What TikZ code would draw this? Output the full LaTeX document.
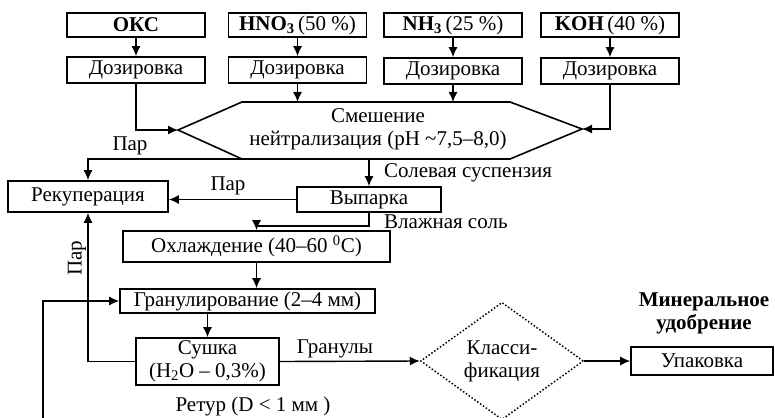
\documentclass[tikz,border=0pt]{standalone}
\usepackage{fontspec}
\setmainfont{Liberation Serif}
\usetikzlibrary{arrows.meta,shapes.geometric,positioning}
\tikzset{
	blk/.style={draw, line width=1.6pt, inner sep=0pt, align=center},
	src/.style={blk, minimum width=138pt, minimum height=24pt},
	dos/.style={blk, minimum width=138pt, minimum height=26pt},
	dec/.style={draw, diamond, dotted, line width=1.5pt, inner sep=0pt, align=center,
		minimum width=163pt, minimum height=90pt},
	flow/.style={line width=1.4pt, -{Latex[length=10pt,width=9pt]}},
	lab/.style={inner sep=1pt}
}

\begin{document}
\begin{tikzpicture}[x=1pt, y=-1pt, font=\fontsize{21}{23}\selectfont]
		\useasboundingbox (0,0) rectangle (775,417);
		% raw materials
		\node[src] (oks) at (136,25) {\textbf{ОКС}};
		\node[src] (hno) at (297.5,25) {\textbf{HNO\textsubscript{3}}\,(50~\%)};
		\node[src] (nh) at (453,25) {\textbf{NH\textsubscript{3}}\,(25~\%)};
		\node[src] (koh) at (610,25) {\textbf{KOH}\,(40~\%)};
		\node[dos] (doz1) at (136,70) {Дозировка};
		\node[dos] (doz2) at (297.5,70) {Дозировка};
		\node[dos] (doz3) at (453,71) {Дозировка};
		\node[dos] (doz4) at (610,71) {Дозировка};
		\draw[flow] (oks) -- (doz1);
		\draw[flow] (hno) -- (doz2);
		\draw[flow] (nh) -- (doz3);
		\draw[flow] (koh) -- (doz4);
		% mixing
		\draw[line width=1.6pt] (242,102) -- (510,102) -- (582,129) -- (510,159)
			-- (242,159) -- (178,130) -- cycle;
		\coordinate (hl) at (178,130);
		\coordinate (hr) at (582,129);
		\coordinate (ht) at (376,102);
		\coordinate (hb) at (376,159);
		\coordinate (hs) at (257,159);
		\node[align=center, inner sep=0pt] (mix) at (378,129)
		{Смешение\\нейтрализация (pH \textasciitilde7,5–8,0)};
		\draw[flow] (doz1.south) |- (hl);
		\draw[flow] (doz2.south) -- (doz2.south |- ht);
		\draw[flow] (doz3.south) -- (doz3.south |- ht);
		\draw[flow] (doz4.south) |- (hr);
		% evaporation
		\node[blk, minimum width=160pt, minimum height=31pt] (rek) at (88,196.5) {Рекуперация};
		\node[blk, minimum width=144pt, minimum height=25pt] (vyp) at (369,199.5) {Выпарка};
		\draw[flow] (hs) -| (rek.north);
		\draw[flow] (hb -| vyp.north) -- (vyp.north);
		\draw[flow] (vyp.west) -- (vyp.west -| rek.east);
		\node[lab] (par1) at (130,146) {Пар};
		\node[lab] (par2) at (228,186) {Пар};
		\node[lab, anchor=west] (susp) at (383,173) {Солевая суспензия};
		\node[lab, anchor=west] (salt) at (383,222) {Влажная соль};
		% cooling, granulation, drying
		\node[blk, minimum width=267pt, minimum height=31pt] (ohl) at (256.5,246.5)
		{Охлаждение (40–60 \textsuperscript{0}C)};
		\node[blk, minimum width=255pt, minimum height=24pt] (gran) at (247.5,301)
		{Гранулирование (2–4 мм)};
		\node[blk, minimum width=143pt, minimum height=47pt] (sush) at (207.5,361.5)
		{Сушка\\(H\textsubscript{2}O – 0,3\%)};
		\draw[flow] (vyp.south) -- ++(0,13) -| (ohl.north);
		\draw[flow] (ohl.south) -- (ohl.south |- gran.north);
		\draw[flow] (sush.north |- gran.south) -- (sush.north);
		\draw[flow] (sush.west) -| (rek.south);
		\node[lab, rotate=90] (par3) at (77,258) {Пар};
		% classification and packing
		\node[dec] (kl) at (502,361) {Класси-\\фикация};
		\node[blk, minimum width=142pt, minimum height=28pt] (upak) at (702,361) {Упаковка};
		\node[lab, align=center, font=\fontsize{21}{23}\selectfont\bfseries] (prod) at (704,313)
		{Минеральное\\удобрение};
		\draw[flow] (sush.east) -- (kl.west);
		\draw[flow] (kl.east) -- (upak.west);
		\node[lab] (gr) at (335,349) {Гранулы};
		% recycle
		\coordinate (ret) at (43,425);
		\draw[flow] (kl.south) |- (ret) |- (gran.west);
		\node[lab] (retur) at (253,406) {Ретур (D < 1 мм )};
	\end{tikzpicture}
\end{document}
